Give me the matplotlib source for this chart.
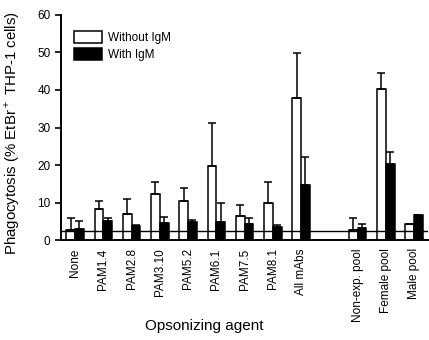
import matplotlib
matplotlib.use("Agg")
import matplotlib.pyplot as plt
import numpy as np

plt.rcParams['font.family'] = ['Liberation Sans', 'DejaVu Sans']
plt.rcParams['mathtext.fontset'] = 'custom'
plt.rcParams['mathtext.rm'] = 'Liberation Sans'

# data
agents = ["None", "PAM1.4", "PAM2.8", "PAM3.10", "PAM5.2", "PAM6.1", "PAM7.5",
          "PAM8.1", "All mAbs", "Non-exp. pool", "Female pool", "Male pool"]
positions = [0, 1, 2, 3, 4, 5, 6, 7, 8, 10, 11, 12]
without_igm = [2.6, 8.2, 6.9, 12.3, 10.3, 19.7, 6.5, 9.9, 37.9, 2.7, 40.2, 4.2]
without_err = [3.4, 2.2, 4.0, 3.3, 3.6, 11.6, 2.8, 5.7, 12.0, 3.3, 4.3, 0.2]
with_igm = [3.0, 5.0, 3.7, 4.5, 4.9, 4.7, 4.4, 3.5, 14.6, 3.1, 20.2, 6.6]
with_err = [2.0, 0.8, 0.3, 1.7, 0.4, 5.2, 1.6, 0.6, 7.5, 1.3, 3.3, 0.2]
background = 2.5

fig = plt.figure(figsize=(4.29, 3.40), dpi=100)
ax = fig.add_axes([0.142, 0.294, 0.856, 0.662])

x = np.array(positions)
w = 0.31
err_kw = dict(ecolor='black', elinewidth=1.1, capsize=2.9, capthick=1.1)
ax.bar(x - w / 2, without_igm, w, color='white', edgecolor='black', linewidth=1.1,
       yerr=[np.zeros(len(x)), without_err], error_kw=err_kw, label='Without IgM', zorder=2)
ax.bar(x + w / 2, with_igm, w, color='black', edgecolor='black', linewidth=1.1,
       yerr=[np.zeros(len(x)), with_err], error_kw=err_kw, label='With IgM', zorder=2)
ax.axhline(background, color='black', linewidth=1.0, zorder=3)

ax.set_xlim(-0.5, 12.5)
ax.set_ylim(0, 60)
ax.set_yticks(range(0, 61, 10))
ax.set_xticks(positions)
ax.set_xticklabels(agents, rotation=90, fontsize=8.5)
ax.tick_params(axis='x', length=0, pad=6)
ax.tick_params(axis='y', labelsize=8.5, length=4, width=1.2, direction='out')

for s in ['top', 'right']:
    ax.spines[s].set_visible(False)
for s in ['left', 'bottom']:
    ax.spines[s].set_linewidth(1.4)

ax.set_xlabel('Opsonizing agent', fontsize=11)
ax.xaxis.set_label_coords(0.39, -0.353)
ax.set_ylabel('Phagocytosis (% EtBr$^+$ THP-1 cells)', fontsize=10.8)
ax.yaxis.set_label_coords(-0.105, 0.475)

ax.legend(loc='upper left', bbox_to_anchor=(0.035, 0.929), frameon=False, fontsize=8.5,
          borderpad=0, borderaxespad=0, handlelength=2.37, handleheight=1.2,
          labelspacing=0.35, handletextpad=0.5)

fig.savefig('out.png', dpi=100)
